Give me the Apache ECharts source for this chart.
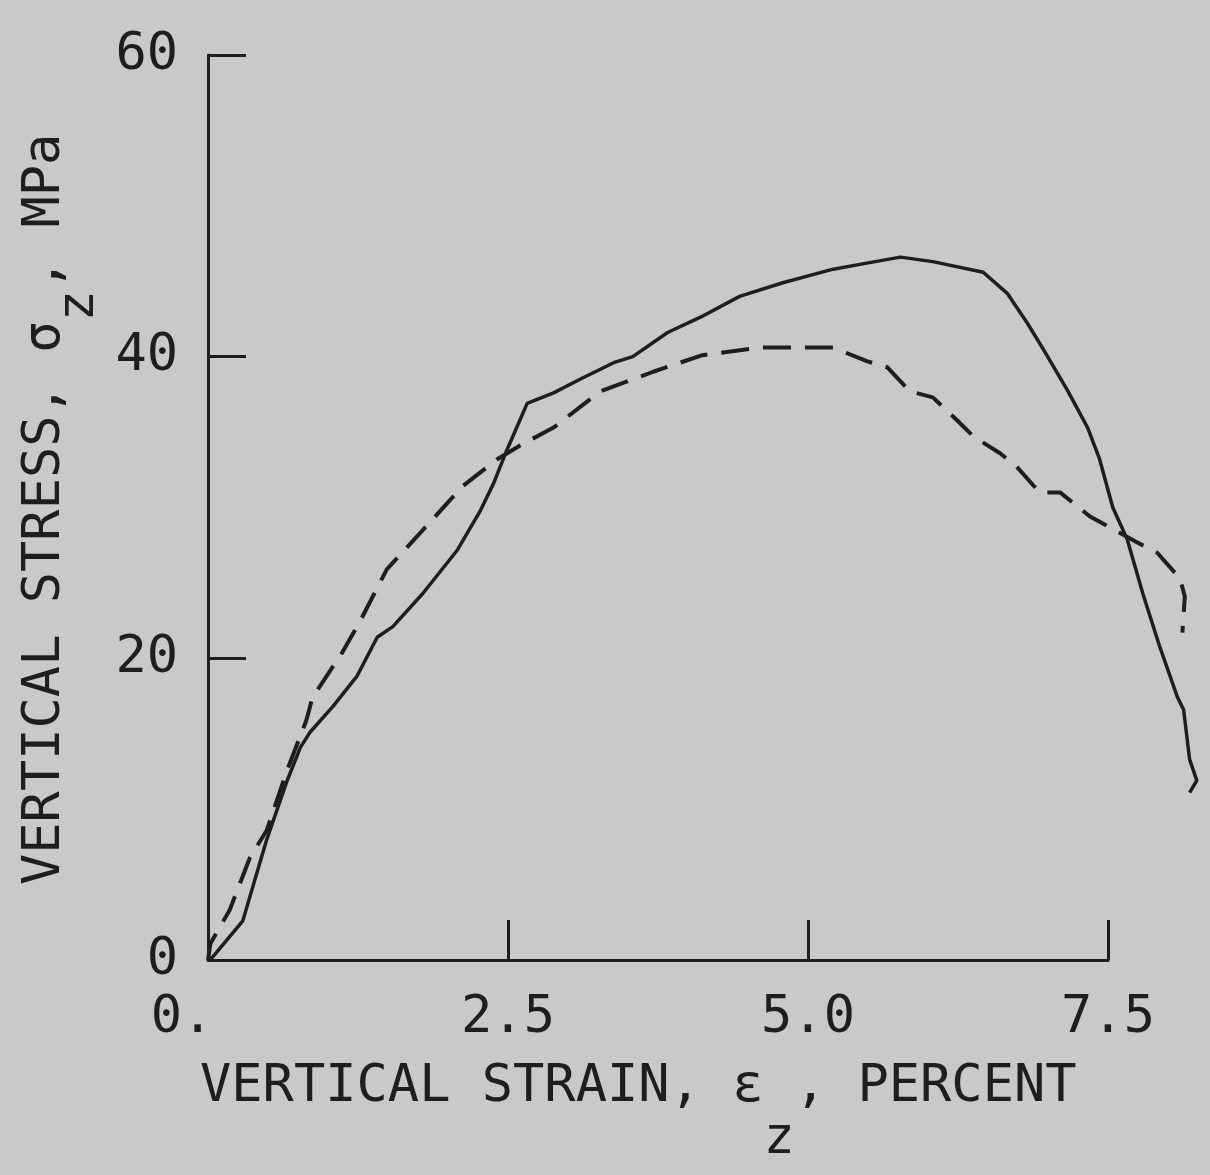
<!DOCTYPE html>
<html>
<head>
<meta charset="utf-8">
<title>Vertical stress vs vertical strain</title>
<script src="https://cdn.jsdelivr.net/npm/echarts@6/dist/echarts.min.js"></script>
<style>
  html, body { margin: 0; padding: 0; background: #c9c9c7; }
  #chart { width: 1210px; height: 1175px; }
</style>
</head>
<body>
<div id="chart"></div>
<script>
// strain (percent) / stress (MPa)
var solidStrain = [0, 0.04, 0.29, 0.49, 0.66, 0.77, 0.85, 1.04, 1.24, 1.41, 1.54, 1.79, 2.08, 2.27, 2.38, 2.49, 2.66, 2.88, 3.10, 3.38, 3.54, 3.83, 4.10, 4.43, 4.79, 5.21, 5.49, 5.77, 6.04, 6.46, 6.66, 6.83, 6.96, 7.16, 7.33, 7.43, 7.54, 7.66, 7.79, 7.93, 8.08, 8.13, 8.18, 8.24, 8.18]
var solidStress = [0, 0.2, 2.6, 8.0, 11.9, 14.1, 15.1, 16.8, 18.8, 21.4, 22.1, 24.3, 27.2, 29.8, 31.6, 33.8, 36.9, 37.6, 38.5, 39.6, 40.0, 41.6, 42.6, 44.0, 44.9, 45.8, 46.2, 46.6, 46.3, 45.6, 44.2, 42.2, 40.5, 37.8, 35.3, 33.2, 30.0, 27.9, 24.3, 20.8, 17.4, 16.6, 13.3, 11.9, 11.1]

var dashedStrain = [0, 0.02, 0.18, 0.35, 0.49, 0.66, 0.82, 0.87, 1.12, 1.27, 1.49, 1.79, 2.12, 2.41, 2.62, 2.88, 3.27, 3.71, 4.12, 4.60, 5.21, 5.49, 5.66, 5.85, 6.04, 6.24, 6.38, 6.60, 6.74, 6.93, 7.10, 7.35, 7.74, 7.91, 8.10, 8.14, 8.12]
var dashedStress = [0, 1.1, 3.3, 6.8, 8.6, 12.6, 15.9, 17.4, 20.4, 22.5, 25.9, 28.5, 31.4, 33.2, 34.2, 35.3, 37.7, 39.0, 40.1, 40.6, 40.6, 39.7, 39.3, 37.7, 37.3, 35.8, 34.7, 33.6, 32.7, 31.0, 31.0, 29.4, 27.7, 27.0, 25.3, 24.1, 21.7]

var xTicks = [0, 2.5, 5.0, 7.5]
var yTicks = [0, 20, 40, 60]
var xDataMax = 8.3 // curves run past the last tick

var ink = '#1e1e1e'
var font = '"DejaVu Sans Mono", "Liberation Mono", monospace'

function pairs(xs, ys) {
  return xs.map(function (x, i) { return [x, ys[i]] })
}

// axis frame is 900px wide for 0..7.5, data grid keeps the same scale out to 8.3
var axisWidth = 900
var dataWidth = axisWidth * xDataMax / xTicks[xTicks.length - 1]

var myChart = echarts.init(document.getElementById('chart'))
myChart.setOption({
  backgroundColor: '#c9c9c7',
  animation: false,
  grid: [
    { left: 208, width: axisWidth, top: 55, bottom: 215 },
    { left: 208, width: dataWidth, top: 55, bottom: 215 }
  ],
  xAxis: [
    {
      type: 'value',
      gridIndex: 0,
      min: xTicks[0],
      max: xTicks[xTicks.length - 1],
      interval: 2.5,
      axisLine: { lineStyle: { color: ink, width: 3 } },
      axisTick: { inside: true, length: 40, lineStyle: { color: ink, width: 3 } },
      splitLine: { show: false },
      axisLabel: {
        color: ink,
        fontFamily: font,
        fontSize: 52,
        margin: 32,
        formatter: function (v) {
          return v === 0 ? '{z|0.}' : v.toFixed(1)
        },
        rich: {
          z: { fontFamily: font, fontSize: 52, color: ink, padding: [0, 52, 0, 0] }
        }
      }
    },
    {
      type: 'value',
      gridIndex: 1,
      min: 0,
      max: xDataMax,
      show: false,
      splitLine: { show: false }
    }
  ],
  yAxis: [
    {
      type: 'value',
      gridIndex: 0,
      min: yTicks[0],
      max: yTicks[yTicks.length - 1],
      interval: 20,
      axisLine: { lineStyle: { color: ink, width: 3 } },
      axisTick: { inside: true, length: 38, lineStyle: { color: ink, width: 3 } },
      splitLine: { show: false },
      axisLabel: { color: ink, fontFamily: font, fontSize: 52, margin: 30 }
    },
    {
      type: 'value',
      gridIndex: 1,
      min: yTicks[0],
      max: yTicks[yTicks.length - 1],
      show: false,
      splitLine: { show: false }
    }
  ],
  graphic: [
    {
      type: 'text',
      x: 200,
      y: 1061,
      style: {
        text: '{n|VERTICAL STRAIN, ε}{s|z}{n|, PERCENT}',
        align: 'left',
        verticalAlign: 'top',
        rich: {
          n: { fontFamily: font, fontSize: 52, lineHeight: 60, verticalAlign: 'top', fill: ink },
          s: { fontFamily: font, fontSize: 52, lineHeight: 60, verticalAlign: 'top', padding: [52, 0, 0, 0], fill: ink }
        }
      }
    },
    {
      type: 'text',
      x: 19,
      y: 885,
      rotation: Math.PI / 2,
      style: {
        text: '{n|VERTICAL STRESS, σ}{s|z}{n|, MPa}',
        align: 'left',
        verticalAlign: 'top',
        rich: {
          n: { fontFamily: font, fontSize: 52, lineHeight: 60, verticalAlign: 'top', fill: ink },
          s: { fontFamily: font, fontSize: 52, lineHeight: 60, verticalAlign: 'top', padding: [34, 0, 0, 0], fill: ink }
        }
      }
    }
  ],
  series: [
    {
      name: 'solid',
      type: 'line',
      xAxisIndex: 1,
      yAxisIndex: 1,
      data: pairs(solidStrain, solidStress),
      showSymbol: false,
      lineStyle: { color: ink, width: 3.5 }
    },
    {
      name: 'dashed',
      type: 'line',
      xAxisIndex: 1,
      yAxisIndex: 1,
      data: pairs(dashedStrain, dashedStress),
      showSymbol: false,
      lineStyle: { color: ink, width: 4, type: [28, 14] }
    }
  ]
})
</script>
</body>
</html>
